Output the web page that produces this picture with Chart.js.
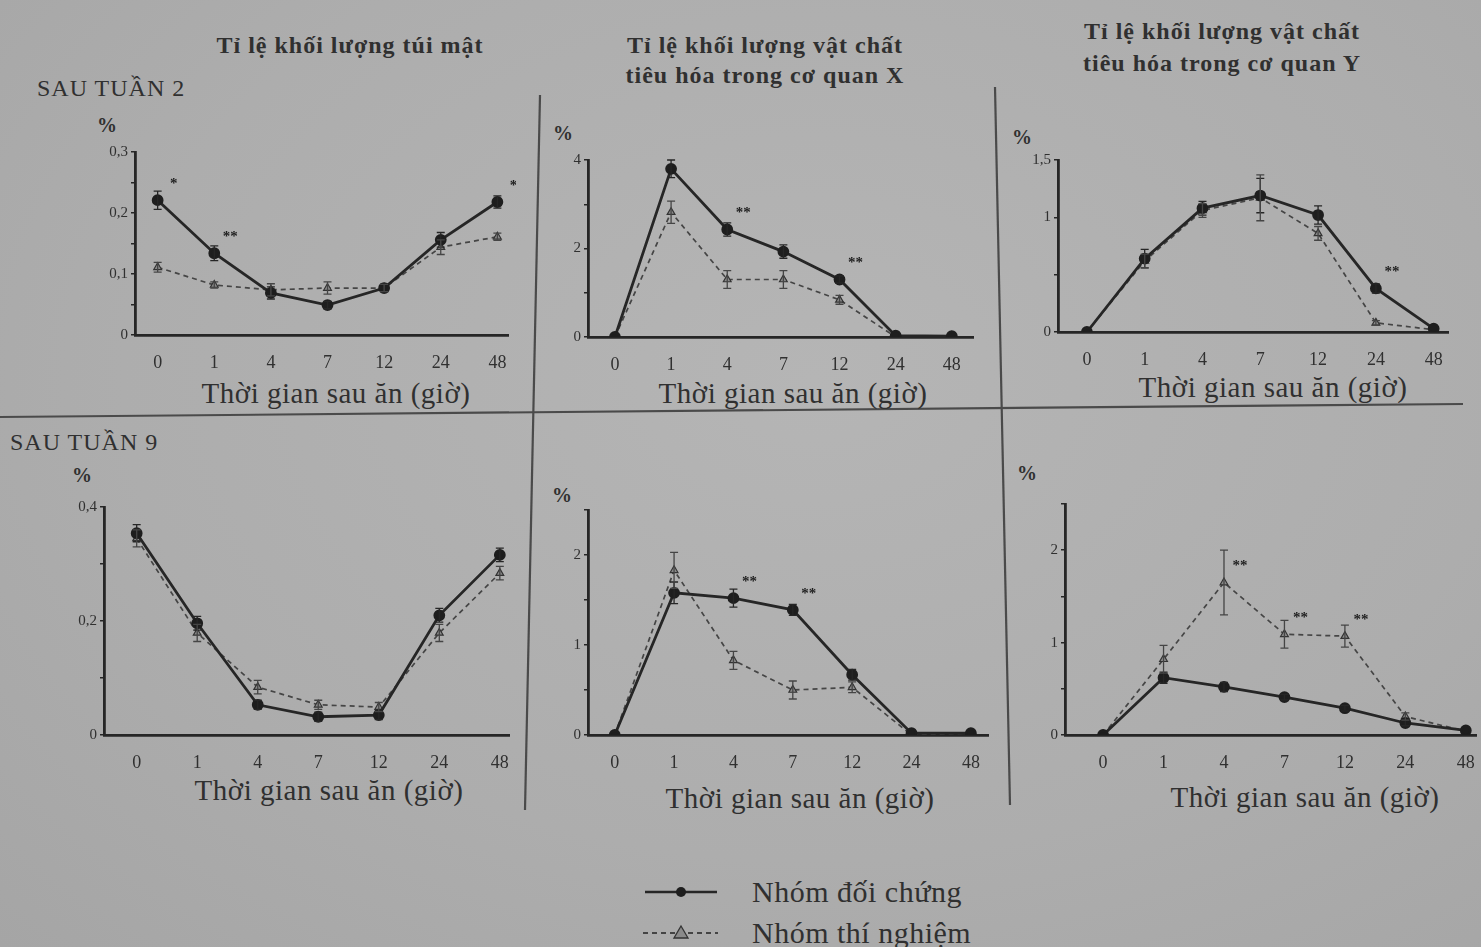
<!DOCTYPE html>
<html lang="vi">
<head>
<meta charset="utf-8">
<title>Tỉ lệ khối lượng sau tuần 2 và tuần 9</title>
<script src="https://cdn.jsdelivr.net/npm/chart.js@4.4.1/dist/chart.umd.min.js"></script>
<style>
  html, body { margin: 0; padding: 0; }
  body {
    width: 1481px; height: 947px; position: relative; overflow: hidden;
    background: radial-gradient(ellipse at 55% 40%, #b5b5b5 0%, #adadad 60%, #a5a5a5 100%);
    font-family: 'Liberation Serif', 'DejaVu Serif', serif; color: #303030;
  }
  .t { position: absolute; white-space: nowrap; transform: translate(-50%, -50%); }
  .l { position: absolute; white-space: nowrap; transform: translateY(-50%); }
  .ttl { font-size: 24px; font-weight: bold; letter-spacing: 1px; }
  .xt { font-size: 29px; letter-spacing: 0.5px; }
  .pc { font-size: 20px; font-weight: bold; }
  .wk { font-size: 24px; letter-spacing: 1px; }
  .lg { font-size: 30px; letter-spacing: 0.5px; }
  canvas { position: absolute; }
  svg { position: absolute; left: 0; top: 0; }
</style>
</head>
<body>

<svg width="1481" height="947">
  <g stroke="#4a4a4a" stroke-width="2.2">
    <line x1="0" y1="417" x2="1463" y2="404"/>
    <line x1="540" y1="95" x2="525" y2="810"/>
    <line x1="995" y1="87" x2="1010" y2="805"/>
  </g>
  <!-- legend keys -->
  <line x1="645" y1="892" x2="717" y2="892" stroke="#262626" stroke-width="2.5"/>
  <circle cx="681" cy="892" r="5" fill="#1e1e1e"/>
  <line x1="643" y1="933" x2="718" y2="933" stroke="#444" stroke-width="1.8" stroke-dasharray="5 4"/>
  <polygon points="681,926 688,938 674,938" fill="#8a8a8a" stroke="#333" stroke-width="1.3"/>
</svg>

<div class="t ttl" style="left:350px;top:45px">Tỉ lệ khối lượng túi mật</div>
<div class="t ttl" style="left:765px;top:45px">Tỉ lệ khối lượng vật chất</div>
<div class="t ttl" style="left:765px;top:75px">tiêu hóa trong cơ quan X</div>
<div class="t ttl" style="left:1222px;top:31px">Tỉ lệ khối lượng vật chất</div>
<div class="t ttl" style="left:1222px;top:63px">tiêu hóa trong cơ quan Y</div>

<div class="l wk" style="left:37px;top:88px">SAU TUẦN 2</div>
<div class="l wk" style="left:10px;top:442px">SAU TUẦN 9</div>

<div class="t pc" style="left:107px;top:125px">%</div>
<div class="t pc" style="left:563px;top:133px">%</div>
<div class="t pc" style="left:1022px;top:137px">%</div>
<div class="t pc" style="left:82px;top:475px">%</div>
<div class="t pc" style="left:562px;top:495px">%</div>
<div class="t pc" style="left:1027px;top:473px">%</div>

<div class="t xt" style="left:336px;top:393px">Thời gian sau ăn (giờ)</div>
<div class="t xt" style="left:793px;top:393px">Thời gian sau ăn (giờ)</div>
<div class="t xt" style="left:1273px;top:387px">Thời gian sau ăn (giờ)</div>
<div class="t xt" style="left:329px;top:790px">Thời gian sau ăn (giờ)</div>
<div class="t xt" style="left:800px;top:798px">Thời gian sau ăn (giờ)</div>
<div class="t xt" style="left:1305px;top:797px">Thời gian sau ăn (giờ)</div>

<div class="l lg" style="left:752px;top:892px">Nhóm đối chứng</div>
<div class="l lg" style="left:752px;top:933px">Nhóm thí nghiệm</div>

<script>
// x categories: hours after eating
const hours = ['0', '1', '4', '7', '12', '24', '48'];

// week 2 - gallbladder mass ratio (%)
const gallW2Ctrl    = [0.221, 0.134, 0.069, 0.049, 0.077, 0.156, 0.218];
const gallW2CtrlErr = [0.015, 0.012, 0.010, 0.006, 0.006, 0.012, 0.010];
const gallW2Exp     = [0.111, 0.082, 0.074, 0.077, 0.077, 0.144, 0.161];
const gallW2ExpErr  = [0.008, 0.005, 0.010, 0.010, 0.006, 0.012, 0.006];
const gallW2Stars   = [[0, '*'], [1, '**'], [6, '*']];

// week 2 - digested matter in organ X (%)
const orgXW2Ctrl    = [0, 3.80, 2.43, 1.93, 1.30, 0.03, 0.02];
const orgXW2CtrlErr = [0, 0.20, 0.15, 0.15, 0.08, 0, 0];
const orgXW2Exp     = [0, 2.82, 1.30, 1.30, 0.84, 0, 0.02];
const orgXW2ExpErr  = [0, 0.25, 0.20, 0.20, 0.10, 0, 0];
const orgXW2Stars   = [[2, '**'], [4, '**']];

// week 2 - digested matter in organ Y (%)
const orgYW2Ctrl    = [0, 0.64, 1.08, 1.19, 1.02, 0.38, 0.03];
const orgYW2CtrlErr = [0, 0.08, 0.06, 0.15, 0.08, 0.04, 0];
const orgYW2Exp     = [0, 0.62, 1.06, 1.17, 0.86, 0.08, 0.02];
const orgYW2ExpErr  = [0, 0.06, 0.06, 0.20, 0.06, 0.02, 0];
const orgYW2Stars   = [[5, '**']];

// week 9 - gallbladder mass ratio (%)
const gallW9Ctrl    = [0.354, 0.196, 0.053, 0.032, 0.035, 0.210, 0.316];
const gallW9CtrlErr = [0.015, 0.012, 0.008, 0.008, 0.008, 0.012, 0.012];
const gallW9Exp     = [0.345, 0.179, 0.084, 0.053, 0.049, 0.179, 0.284];
const gallW9ExpErr  = [0.015, 0.015, 0.012, 0.008, 0.008, 0.015, 0.012];
const gallW9Stars   = [];

// week 9 - digested matter in organ X (%)
const orgXW9Ctrl    = [0, 1.58, 1.52, 1.39, 0.67, 0.02, 0.02];
const orgXW9CtrlErr = [0, 0.12, 0.10, 0.06, 0.06, 0, 0];
const orgXW9Exp     = [0, 1.83, 0.83, 0.50, 0.53, 0, 0.02];
const orgXW9ExpErr  = [0, 0.20, 0.10, 0.10, 0.06, 0, 0];
const orgXW9Stars   = [[2, '**'], [3, '**']];

// week 9 - digested matter in organ Y (%)
const orgYW9Ctrl    = [0, 0.62, 0.52, 0.41, 0.29, 0.13, 0.05];
const orgYW9CtrlErr = [0, 0.06, 0.05, 0.03, 0.03, 0.03, 0];
const orgYW9Exp     = [0, 0.82, 1.65, 1.09, 1.07, 0.20, 0.04];
const orgYW9ExpErr  = [0, 0.15, 0.35, 0.15, 0.12, 0.04, 0];
const orgYW9Stars   = [[2, '**'], [3, '**'], [4, '**']];

const INK = '#262626';
const FONT = "'Liberation Serif', 'DejaVu Serif', serif";
const YW = 45, XH = 35, PT = 12, PR = 6; // axis room around the plot box

// panel layout (plot box in page pixels) + axis ranges
const panels = [
  { ctrl: gallW2Ctrl, ctrlErr: gallW2CtrlErr, exp: gallW2Exp, expErr: gallW2ExpErr, stars: gallW2Stars,
    yMax: 0.3, yStep: 0.05, yShown: [0, 0.1, 0.2, 0.3], xMin: -0.4, xMax: 6.2,
    box: { left: 135, right: 510, top: 152, bottom: 335 } },
  { ctrl: orgXW2Ctrl, ctrlErr: orgXW2CtrlErr, exp: orgXW2Exp, expErr: orgXW2ExpErr, stars: orgXW2Stars,
    yMax: 4, yStep: 1, yShown: [0, 2, 4], xMin: -0.48, xMax: 6.39,
    box: { left: 588, right: 975, top: 160, bottom: 337 } },
  { ctrl: orgYW2Ctrl, ctrlErr: orgYW2CtrlErr, exp: orgYW2Exp, expErr: orgYW2ExpErr, stars: orgYW2Stars,
    yMax: 1.5, yStep: 0.5, yShown: [0, 1, 1.5], xMin: -0.5, xMax: 6.26,
    box: { left: 1058, right: 1450, top: 160, bottom: 332 } },
  { ctrl: gallW9Ctrl, ctrlErr: gallW9CtrlErr, exp: gallW9Exp, expErr: gallW9ExpErr, stars: gallW9Stars,
    yMax: 0.4, yStep: 0.1, yShown: [0, 0.2, 0.4], xMin: -0.54, xMax: 6.16,
    box: { left: 104, right: 512, top: 507, bottom: 735 } },
  { ctrl: orgXW9Ctrl, ctrlErr: orgXW9CtrlErr, exp: orgXW9Exp, expErr: orgXW9ExpErr, stars: orgXW9Stars,
    yMax: 2.5, yStep: 0.5, yShown: [0, 1, 2], xMin: -0.45, xMax: 6.3,
    box: { left: 588, right: 990, top: 510, bottom: 735 } },
  { ctrl: orgYW9Ctrl, ctrlErr: orgYW9CtrlErr, exp: orgYW9Exp, expErr: orgYW9ExpErr, stars: orgYW9Stars,
    yMax: 2.5, yStep: 0.5, yShown: [0, 1, 2], xMin: -0.63, xMax: 6.18,
    box: { left: 1065, right: 1478, top: 504, bottom: 735 } }
];

const round2 = v => Math.round(v * 100) / 100;

// error bars + significance stars, placed through the chart's own scales
const errorBars = {
  id: 'errorBars',
  afterDatasetsDraw(chart) {
    const { ctx, scales: { x, y } } = chart;
    chart.data.datasets.forEach(ds => {
      if (!ds.errors) return;
      ctx.save();
      ctx.strokeStyle = ds.borderColor;
      ctx.lineWidth = 1.3;
      ds.data.forEach((p, i) => {
        const e = ds.errors[i];
        if (!e) return;
        const px = x.getPixelForValue(p.x);
        const top = y.getPixelForValue(p.y + e), bot = y.getPixelForValue(Math.max(0, p.y - e));
        ctx.beginPath();
        ctx.moveTo(px, top); ctx.lineTo(px, bot);
        ctx.moveTo(px - 4, top); ctx.lineTo(px + 4, top);
        ctx.moveTo(px - 4, bot); ctx.lineTo(px + 4, bot);
        ctx.stroke();
      });
      ctx.restore();
    });
    const stars = chart.options.plugins.errorBars.stars || [];
    ctx.save();
    ctx.fillStyle = '#1e1e1e';
    ctx.font = 'bold 15px ' + FONT;
    ctx.textAlign = 'center';
    ctx.textBaseline = 'middle';
    stars.forEach(([i, s]) => {
      const v = Math.max(...chart.data.datasets.map(ds => ds.data[i].y));
      ctx.fillText(s, x.getPixelForValue(i) + 16, y.getPixelForValue(v) - 16);
    });
    ctx.restore();
  }
};

panels.forEach(p => {
  const b = p.box;
  const cv = document.createElement('canvas');
  cv.width = b.right - b.left + YW + PR;
  cv.height = b.bottom - b.top + PT + XH;
  cv.style.left = (b.left - YW) + 'px';
  cv.style.top = (b.top - PT) + 'px';
  document.body.appendChild(cv);

  new Chart(cv.getContext('2d'), {
    type: 'line',
    data: {
      datasets: [
        {
          label: 'Nhóm đối chứng',
          data: p.ctrl.map((v, i) => ({ x: i, y: v })),
          errors: p.ctrlErr,
          borderColor: INK, borderWidth: 2.8,
          pointRadius: 4.5, pointBackgroundColor: '#1e1e1e', pointBorderColor: '#1e1e1e',
          tension: 0
        },
        {
          label: 'Nhóm thí nghiệm',
          data: p.exp.map((v, i) => ({ x: i, y: v })),
          errors: p.expErr,
          borderColor: '#454545', borderWidth: 1.7, borderDash: [5, 4],
          pointStyle: 'triangle', pointRadius: 4.5,
          pointBackgroundColor: '#8a8a8a', pointBorderColor: '#333', pointBorderWidth: 1.2,
          tension: 0
        }
      ]
    },
    options: {
      responsive: false,
      animation: false,
      layout: { padding: { top: PT, right: PR, left: 0, bottom: 0 } },
      plugins: {
        legend: { display: false },
        tooltip: { enabled: false },
        errorBars: { stars: p.stars }
      },
      scales: {
        x: {
          type: 'linear', min: p.xMin, max: p.xMax,
          afterBuildTicks: axis => { axis.ticks = hours.map((h, i) => ({ value: i })); },
          afterFit: s => { s.height = XH; },
          ticks: {
            autoSkip: false, maxRotation: 0, padding: 9,
            color: '#303030', font: { family: FONT, size: 18 },
            callback: v => hours[v]
          },
          grid: { display: false },
          border: { display: true, color: INK, width: 2.8 }
        },
        y: {
          min: 0, max: p.yMax,
          afterFit: s => { s.width = YW; },
          ticks: {
            stepSize: p.yStep, padding: 3,
            color: '#303030', font: { family: FONT, size: 15 },
            callback: v => p.yShown.includes(round2(v)) ? String(round2(v)).replace('.', ',') : ''
          },
          grid: { drawOnChartArea: false, drawTicks: true, tickLength: 4, color: INK, lineWidth: 1.5 },
          border: { display: true, color: INK, width: 2.8 }
        }
      }
    },
    plugins: [errorBars]
  });
});
</script>
</body>
</html>
